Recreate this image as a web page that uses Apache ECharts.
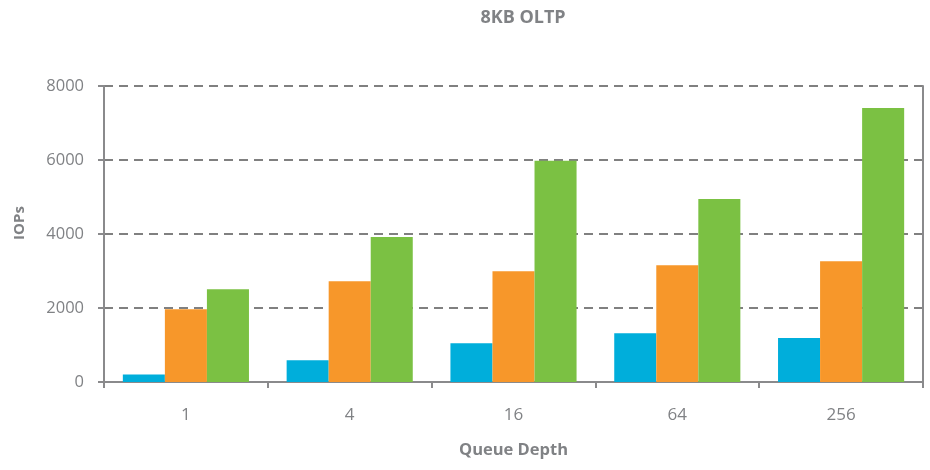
<!DOCTYPE html>
<html>
<head>
    <meta charset="utf-8">
    <title>8KB OLTP</title>
    <script type="text/javascript" src="https://cdn.jsdelivr.net/npm/echarts@6/dist/echarts.min.js"></script>
    <style>
        html, body { margin: 0; padding: 0; background: #fff; }
    </style>
</head>
<body>
    <div id="main" style="width: 930px; height: 470px;"></div>
    <script type="text/javascript">
    // data
    var queueDepths = ['1', '4', '16', '64', '256'];
    var seriesA = [205, 590, 1050, 1315, 1190];     // blue
    var seriesB = [1965, 2725, 2995, 3155, 3265];   // orange
    var seriesC = [2505, 3920, 5980, 4945, 7405];   // green

    var grey = '#808285';
    var axisGrey = '#8a8a8c';
    var font = '"Open Sans", "DejaVu Sans", sans-serif';

    var myChart = echarts.init(document.getElementById('main'));

    function bar(name, data, color) {
        return {
            name: name,
            type: 'bar',
            data: data,
            barGap: '0%',
            barCategoryGap: '23%',
            itemStyle: { color: color },
            animation: false
        };
    }

    var option = {
        animation: false,
        title: {
            text: '8KB OLTP',
            left: 518,
            textAlign: 'center',
            top: 4,
            textStyle: { color: grey, fontSize: 18, fontWeight: 'bold', fontFamily: font }
        },
        grid: { left: 104, right: 7, top: 86, bottom: 88 },
        xAxis: {
            type: 'category',
            data: queueDepths,
            name: 'Queue Depth',
            nameLocation: 'middle',
            nameGap: 60,
            nameTextStyle: { color: grey, fontSize: 16.5, fontWeight: 'bold', fontFamily: font },
            axisLine: { lineStyle: { color: axisGrey, width: 2 } },
            axisTick: { show: true, length: 6, lineStyle: { color: axisGrey, width: 2 } },
            axisLabel: { color: grey, fontSize: 17, margin: 25, fontFamily: font }
        },
        yAxis: [{
            type: 'value',
            min: 0,
            max: 8000,
            interval: 2000,
            name: 'IOPs',
            nameLocation: 'middle',
            nameGap: 77,
            nameTextStyle: { color: grey, fontSize: 15, fontWeight: 'bold', fontFamily: font, padding: [0, 0, 0, 22] },
            axisLine: { show: true, lineStyle: { color: axisGrey, width: 2 } },
            axisTick: { show: true, length: 6, lineStyle: { color: axisGrey, width: 2 } },
            axisLabel: {
                color: grey, fontSize: 16.5, margin: 20, fontFamily: font,
                formatter: function (v) { return String(v); }
            },
            splitLine: { lineStyle: { color: '#808080', width: 2, type: [9, 6] } }
        }, {
            type: 'value',
            min: 0,
            max: 8000,
            interval: 2000,
            position: 'right',
            axisLine: { show: true, lineStyle: { color: axisGrey, width: 2 } },
            axisTick: { show: false },
            axisLabel: { show: false },
            splitLine: { show: false }
        }],
        series: [
            bar('A', seriesA, '#00aedb'),
            bar('B', seriesB, '#f7972a'),
            bar('C', seriesC, '#7bc143')
        ]
    };

    myChart.setOption(option);
    </script>
</body>
</html>
